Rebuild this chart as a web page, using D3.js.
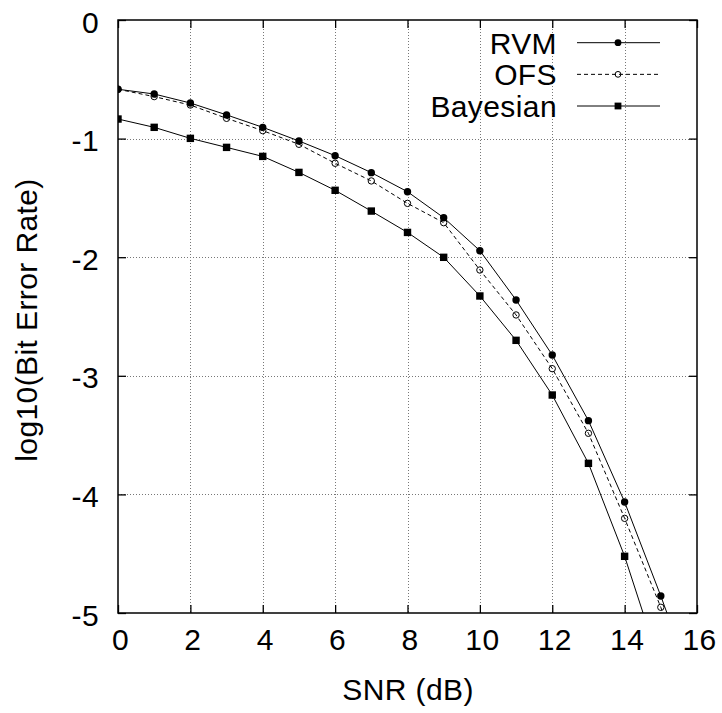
<!DOCTYPE html>
<html>
<head>
<meta charset="utf-8">
<script src="https://cdn.jsdelivr.net/npm/d3@7"></script>
<style>
	body { margin: 0; background: #fff; }
	svg text { font-family: "Liberation Sans", Arial, sans-serif; fill: #000; letter-spacing: 0.4px; }
</style>
</head>
<body>
<div id="chart"></div>
<script>
// SNR values (dB)
var snr = [0, 1, 2, 3, 4, 5, 6, 7, 8, 9, 10, 11, 12, 13, 14, 15, 16];

// log10(bit error rate)
var rvm = [-0.584, -0.624, -0.70, -0.80, -0.905, -1.02, -1.144, -1.287, -1.448, -1.667,
	-1.945, -2.361, -2.825, -3.378, -4.064, -4.857, -5.70];
var ofs = [-0.584, -0.646, -0.717, -0.829, -0.933, -1.048, -1.208, -1.357, -1.546, -1.709,
	-2.108, -2.487, -2.940, -3.485, -4.202, -4.952, -5.80];
var bayesian = [-0.835, -0.905, -0.998, -1.074, -1.150, -1.285, -1.436, -1.611, -1.791, -2.001,
	-2.327, -2.701, -3.162, -3.738, -4.522, -5.46];

var xTicks = [0, 2, 4, 6, 8, 10, 12, 14, 16];
var yTicks = [0, -1, -2, -3, -4, -5];
var seriesNames = ["RVM", "OFS", "Bayesian"];

$chart();

function $chart() {
	var w = 722,
		h = 713,
		pLeft = 118,
		pRight = 697,
		pTop = 20,
		pBottom = 613,
		fontSize = 30;

	var x = d3.scaleLinear().domain([0, 16]).range([pLeft, pRight]);
	var y = d3.scaleLinear().domain([0, -5]).range([pTop, pBottom]);

	var svg = d3.select("#chart")
		.append("svg")
		.attr("width", w)
		.attr("height", h);

	svg.append("defs").append("clipPath")
		.attr("id", "plot-clip")
		.append("rect")
		.attr("x", pLeft)
		.attr("y", pTop)
		.attr("width", pRight - pLeft)
		.attr("height", pBottom - pTop);

	// grid
	var grid = svg.append("g")
		.attr("stroke", "#777")
		.attr("stroke-width", 1)
		.attr("stroke-dasharray", "1,2");

	grid.selectAll("line.vx")
		.data(xTicks.slice(1, -1))
		.enter().append("line")
		.attr("x1", function(d) { return Math.round(x(d)) + 0.5; })
		.attr("x2", function(d) { return Math.round(x(d)) + 0.5; })
		.attr("y1", pTop)
		.attr("y2", pBottom);

	grid.selectAll("line.hy")
		.data(yTicks.slice(1, -1))
		.enter().append("line")
		.attr("y1", function(d) { return Math.round(y(d)) + 0.5; })
		.attr("y2", function(d) { return Math.round(y(d)) + 0.5; })
		.attr("x1", pLeft)
		.attr("x2", pRight);

	// axes with mirrored inward ticks
	var xAxis = d3.axisBottom(x).tickValues(xTicks).tickSize(-8).tickPadding(16).tickFormat(d3.format("d"));
	var yAxis = d3.axisLeft(y).tickValues(yTicks).tickSize(-8).tickPadding(19)
		.tickFormat(function(d) { return d === 0 ? "0" : "-" + Math.abs(d); });

	var gx = svg.append("g")
		.attr("transform", "translate(0," + pBottom + ")")
		.call(xAxis);
	var gy = svg.append("g")
		.attr("transform", "translate(" + pLeft + ",0)")
		.call(yAxis);

	// labels sit a touch right / low of their ticks in the original
	gx.selectAll(".tick text").attr("dx", 2);
	gy.selectAll(".tick text").attr("dy", "0.4em");

	svg.append("g")
		.attr("transform", "translate(0," + pTop + ")")
		.call(d3.axisTop(x).tickValues(xTicks).tickSize(-8).tickFormat(""));
	svg.append("g")
		.attr("transform", "translate(" + pRight + ",0)")
		.call(d3.axisRight(y).tickValues(yTicks).tickSize(-8).tickFormat(""));

	svg.selectAll(".domain").remove();
	svg.selectAll(".tick line").attr("stroke", "#000").attr("stroke-width", 1.3);
	svg.selectAll(".tick text")
		.style("font-family", "'Liberation Sans', Arial, sans-serif")
		.style("font-size", fontSize + "px")
		.attr("fill", "#000");

	svg.append("rect")
		.attr("x", pLeft)
		.attr("y", pTop)
		.attr("width", pRight - pLeft)
		.attr("height", pBottom - pTop)
		.attr("fill", "none")
		.attr("stroke", "#000")
		.attr("stroke-width", 1.5);

	// axis labels
	svg.append("text")
		.attr("x", 408)
		.attr("y", 700)
		.attr("text-anchor", "middle")
		.attr("font-size", fontSize + "px")
		.text("SNR (dB)");

	svg.append("text")
		.attr("transform", "translate(37,320) rotate(-90)")
		.attr("text-anchor", "middle")
		.attr("font-size", fontSize + "px")
		.text("log10(Bit Error Rate)");

	// series
	var series = [
		{ name: "RVM", values: rvm, dash: null, marker: "dot" },
		{ name: "OFS", values: ofs, dash: "4,3", marker: "ring" },
		{ name: "Bayesian", values: bayesian, dash: null, marker: "square" }
	];

	var line = d3.line()
		.x(function(d, i) { return x(snr[i]); })
		.y(function(d) { return y(d); });

	var plot = svg.append("g").attr("clip-path", "url(#plot-clip)");

	series.forEach(function(s) {
		plot.append("path")
			.attr("d", line(s.values))
			.attr("fill", "none")
			.attr("stroke", "#000")
			.attr("stroke-width", 1)
			.attr("stroke-dasharray", s.dash);

		s.values.forEach(function(v, i) {
			if (v >= -5) drawMarker(plot, s.marker, x(snr[i]), y(v), 3.7);
		});
	});

	// legend
	var legendY = d3.scalePoint().domain(seriesNames).range([42.7, 106]);

	var legend = svg.append("g");
	series.forEach(function(s) {
		var ly = legendY(s.name);
		legend.append("text")
			.attr("x", 557)
			.attr("y", ly)
			.attr("dy", "0.36em")
			.attr("text-anchor", "end")
			.attr("font-size", fontSize + "px")
			.text(s.name);
		legend.append("line")
			.attr("x1", 577)
			.attr("x2", 660)
			.attr("y1", ly)
			.attr("y2", ly)
			.attr("stroke", "#000")
			.attr("stroke-width", 1)
			.attr("stroke-dasharray", s.dash);
		drawMarker(legend, s.marker, 618, ly, 3.4);
	});
}

function drawMarker(g, type, cx, cy, r) {
	if (type === "square") {
		g.append("rect")
			.attr("x", cx - r)
			.attr("y", cy - r)
			.attr("width", 2 * r)
			.attr("height", 2 * r)
			.attr("fill", "#000");
	} else {
		g.append("circle")
			.attr("cx", cx)
			.attr("cy", cy)
			.attr("r", type === "ring" ? r - 0.5 : r)
			.attr("fill", type === "ring" ? "none" : "#000")
			.attr("stroke", "#000")
			.attr("stroke-width", type === "ring" ? 1 : 0);
	}
}
</script>
</body>
</html>
